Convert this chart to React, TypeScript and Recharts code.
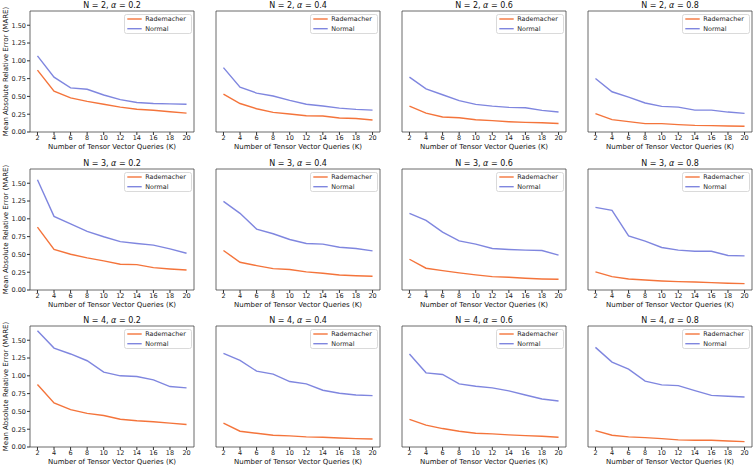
import React from 'react';
import { LineChart, Line, XAxis, YAxis, ReferenceArea, Legend } from 'recharts';

const kValues = [2, 4, 6, 8, 10, 12, 14, 16, 18, 20];
const nValues = [2, 3, 4];
const alphaValues = [0.2, 0.4, 0.6, 0.8];
const yTicks = [0, 0.25, 0.5, 0.75, 1.0, 1.25, 1.5];
const seriesNames = ['Rademacher', 'Normal'];
const seriesColors = ['#F4743B', '#7F86DF'];

const radN2a02 = [0.87, 0.575, 0.48, 0.43, 0.39, 0.35, 0.32, 0.305, 0.285, 0.265];
const norN2a02 = [1.07, 0.77, 0.62, 0.6, 0.52, 0.455, 0.415, 0.4, 0.395, 0.39];
const radN2a04 = [0.533, 0.4, 0.327, 0.276, 0.252, 0.229, 0.224, 0.196, 0.19, 0.168];
const norN2a04 = [0.905, 0.63, 0.547, 0.505, 0.444, 0.39, 0.365, 0.336, 0.318, 0.308];
const radN2a06 = [0.364, 0.266, 0.21, 0.2, 0.173, 0.16, 0.145, 0.135, 0.13, 0.12];
const norN2a06 = [0.77, 0.607, 0.523, 0.44, 0.388, 0.364, 0.346, 0.34, 0.304, 0.28];
const radN2a08 = [0.257, 0.173, 0.145, 0.117, 0.117, 0.103, 0.093, 0.089, 0.084, 0.08];
const norN2a08 = [0.752, 0.565, 0.49, 0.407, 0.36, 0.35, 0.308, 0.308, 0.28, 0.262];
const radN3a02 = [0.884, 0.569, 0.503, 0.451, 0.409, 0.362, 0.357, 0.315, 0.296, 0.282];
const norN3a02 = [1.55, 1.034, 0.93, 0.823, 0.748, 0.68, 0.654, 0.63, 0.578, 0.517];
const radN3a04 = [0.555, 0.39, 0.343, 0.3, 0.287, 0.254, 0.235, 0.21, 0.2, 0.193];
const norN3a04 = [1.246, 1.077, 0.856, 0.79, 0.71, 0.653, 0.644, 0.6, 0.583, 0.55];
const radN3a06 = [0.432, 0.306, 0.273, 0.24, 0.212, 0.188, 0.179, 0.165, 0.155, 0.15];
const norN3a06 = [1.077, 0.978, 0.813, 0.69, 0.644, 0.583, 0.569, 0.56, 0.555, 0.489];
const radN3a08 = [0.254, 0.188, 0.155, 0.141, 0.127, 0.118, 0.113, 0.103, 0.094, 0.089];
const norN3a08 = [1.16, 1.12, 0.76, 0.686, 0.597, 0.56, 0.545, 0.545, 0.484, 0.48];
const radN4a02 = [0.877, 0.618, 0.524, 0.472, 0.443, 0.39, 0.368, 0.354, 0.335, 0.316];
const norN4a02 = [1.632, 1.39, 1.307, 1.212, 1.052, 1.0, 0.99, 0.943, 0.849, 0.83];
const radN4a04 = [0.335, 0.222, 0.193, 0.165, 0.156, 0.142, 0.137, 0.127, 0.118, 0.113];
const norN4a04 = [1.316, 1.217, 1.066, 1.024, 0.92, 0.887, 0.797, 0.755, 0.731, 0.722];
const radN4a06 = [0.387, 0.307, 0.259, 0.222, 0.193, 0.184, 0.17, 0.16, 0.151, 0.137];
const norN4a06 = [1.307, 1.042, 1.019, 0.887, 0.854, 0.83, 0.788, 0.731, 0.675, 0.646];
const radN4a08 = [0.231, 0.165, 0.142, 0.132, 0.118, 0.1, 0.094, 0.094, 0.085, 0.075];
const norN4a08 = [1.4, 1.193, 1.094, 0.925, 0.873, 0.863, 0.792, 0.726, 0.712, 0.703];

const radGrid = [
  [radN2a02, radN2a04, radN2a06, radN2a08],
  [radN3a02, radN3a04, radN3a06, radN3a08],
  [radN4a02, radN4a04, radN4a06, radN4a08],
];
const norGrid = [
  [norN2a02, norN2a04, norN2a06, norN2a08],
  [norN3a02, norN3a04, norN3a06, norN3a08],
  [norN4a02, norN4a04, norN4a06, norN4a08],
];

const FONT = 'DejaVu Sans';
const PLOT_W = 164;
const PLOT_H = 121;
const Y_AXIS_W = 30;
const X_AXIS_H = 25;
const TOP_M = 11;
const RIGHT_M = 2;
const plotLefts = [30, 216, 402, 588];
const plotTops = [11, 169, 326.3];

const LegendBox = (props: any) => {
  const payload = props.payload || [];
  const ordered = seriesNames
    .map((name) => payload.find((p: any) => p.value === name))
    .filter(Boolean);
  return (
    <svg width={68} height={20} style={{ display: 'block' }}>
      <rect x={0.5} y={0.5} width={67} height={19} rx={2} ry={2} fill="rgba(255,255,255,0.85)" stroke="#d0d0d0" strokeWidth={0.8} />
      {ordered.map((p: any, i: number) => (
        <g key={i}>
          <line x1={3.3} x2={17.7} y1={5 + i * 9.7} y2={5 + i * 9.7} stroke={p.color} strokeWidth={1.4} />
          <text x={21.3} y={7.3 + i * 9.7} fontSize={6.4} fontFamily={FONT} fill="#222">{p.value}</text>
        </g>
      ))}
    </svg>
  );
};

const YLabel = (props: any) => {
  const vb = props.viewBox || {};
  const cx = 6;
  const cy = vb.y + vb.height / 2;
  return (
    <text x={cx} y={cy} transform={`rotate(-90, ${cx}, ${cy})`} textAnchor="middle" dominantBaseline="central" fontSize={7} fontFamily={FONT} fill="#111">
      Mean Absolute Relative Error (MARE)
    </text>
  );
};

function Panel({ r, c }: { r: number; c: number }) {
  const rad = radGrid[r][c];
  const nor = norGrid[r][c];
  const rows = kValues.map((k, i) => ({ k, Rademacher: rad[i], Normal: nor[i] }));
  const plotLeft = plotLefts[c];
  const plotTop = plotTops[r];
  const showY = c === 0;
  return (
    <div style={{ position: 'absolute', left: plotLeft - Y_AXIS_W, top: plotTop - TOP_M }}>
      <LineChart
        width={Y_AXIS_W + PLOT_W + RIGHT_M}
        height={TOP_M + PLOT_H + X_AXIS_H}
        data={rows}
        margin={{ top: TOP_M, right: RIGHT_M, left: 0, bottom: 0 }}
      >
        <XAxis
          dataKey="k"
          type="number"
          domain={[1.1, 20.9]}
          ticks={kValues}
          allowDataOverflow
          height={X_AXIS_H}
          axisLine={false}
          tickSize={3}
          tickMargin={0}
          stroke="#333"
          tick={{ fontSize: 6.5, fontFamily: FONT, fill: '#222' }}
          interval={0}
          label={{ value: 'Number of Tensor Vector Queries (K)', position: 'insideBottom', offset: 8, fontSize: 7, fontFamily: FONT, fill: '#111' }}
        />
        <YAxis
          type="number"
          domain={[0, 1.7]}
          ticks={yTicks}
          allowDataOverflow
          width={Y_AXIS_W}
          axisLine={false}
          tickSize={3}
          tickMargin={1}
          stroke="#333"
          interval={0}
          tick={showY ? { fontSize: 6.5, fontFamily: FONT, fill: '#222' } : false}
          tickFormatter={(v: number) => v.toFixed(2)}
          label={showY ? <YLabel /> : undefined}
        />
        <ReferenceArea x1={1.1} x2={20.9} y1={0} y2={1.7} fill="none" stroke="#444" strokeWidth={0.8} ifOverflow="visible" />
        {seriesNames.map((name, i) => (
          <Line
            key={name}
            dataKey={name}
            name={name}
            stroke={seriesColors[i]}
            strokeWidth={1.4}
            dot={false}
            isAnimationActive={false}
          />
        ))}
        <Legend
          layout="horizontal"
          verticalAlign="middle"
          align="center"
          width={68}
          wrapperStyle={{ top: TOP_M + 3, left: Y_AXIS_W + PLOT_W - 2.3 - 67.7, width: 68, height: 20, margin: 0, padding: 0 }}
          content={<LegendBox />}
        />
      </LineChart>
    </div>
  );
}

export default function App() {
  return (
    <div style={{ position: 'absolute', left: 0, top: 0, width: 753, height: 470, overflow: 'hidden', background: '#fff' }}>
      {nValues.map((n, r) =>
        alphaValues.map((a, c) => <Panel key={`${r}-${c}`} r={r} c={c} />)
      )}
      <svg width={753} height={470} style={{ position: 'absolute', left: 0, top: 0, pointerEvents: 'none' }}>
        {nValues.map((n, r) =>
          alphaValues.map((a, c) => (
            <text
              key={`t-${r}-${c}`}
              x={plotLefts[c] + PLOT_W / 2}
              y={plotTops[r] - 3}
              textAnchor="middle"
              fontSize={8}
              fontFamily={FONT}
              fill="#111"
            >
              <tspan>{`N = ${n}, `}</tspan>
              <tspan fontStyle="italic">α</tspan>
              <tspan>{` = ${a.toFixed(1)}`}</tspan>
            </text>
          ))
        )}
      </svg>
    </div>
  );
}
